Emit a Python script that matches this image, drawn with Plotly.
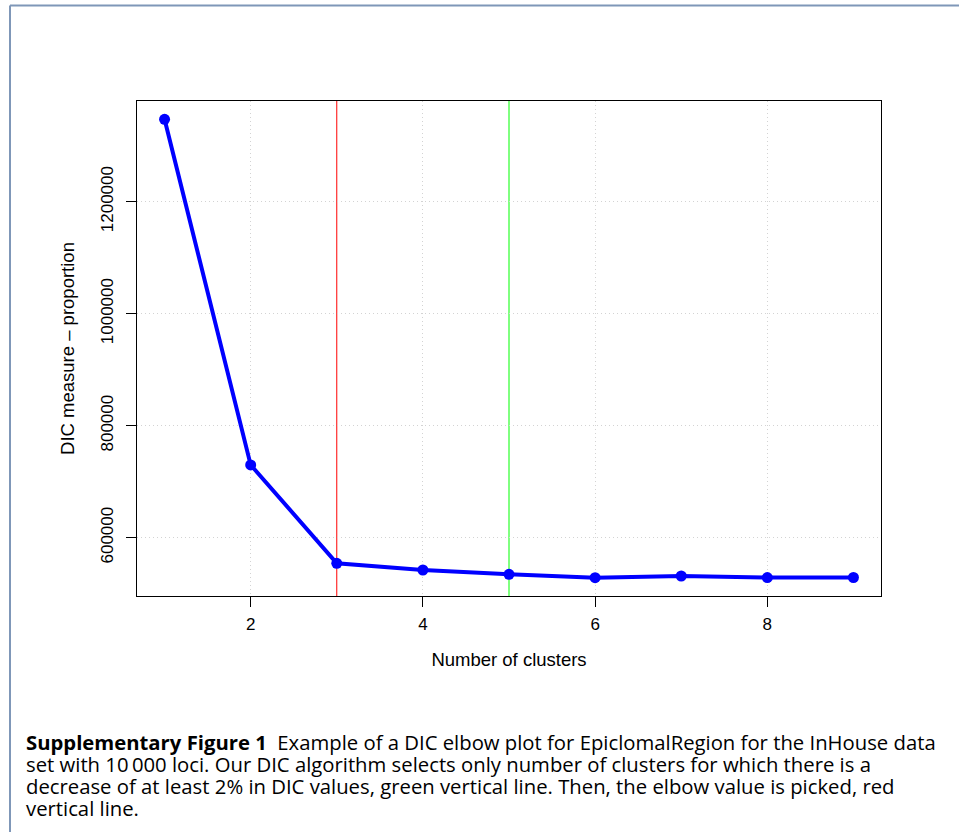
import plotly.graph_objects as go

# ---- data ----
clusters = [1, 2, 3, 4, 5, 6, 7, 8, 9]
dic_values = [1347000, 730000, 554300, 542300, 534600, 528600, 531600, 528800, 528900]
elbow_k = 3
selected_k = 5
x_ticks = [2, 4, 6, 8]
y_ticks = [600000, 800000, 1000000, 1200000]
caption_lines = [
    "<b>Supplementary Figure 1</b>  Example of a DIC elbow plot for EpiclomalRegion for the InHouse data",
    "set with 10\u2009000 loci. Our DIC algorithm selects only number of clusters for which there is a",
    "decrease of at least 2% in DIC values, green vertical line. Then, the elbow value is picked, red",
    "vertical line.",
]

W, H = 959, 832
L, R, T, B = 137, 881, 101, 596
pw, ph = R - L, B - T

def px(xp):
    return (xp - L) / pw

def py(yp):
    return (B - yp) / ph

# R-style 4% axis extension
xmin, xmax = min(clusters), max(clusters)
xr = [xmin - 0.04 * (xmax - xmin), xmax + 0.04 * (xmax - xmin)]
ymin, ymax = min(dic_values), max(dic_values)
yr = [ymin - 0.04 * (ymax - ymin), ymax + 0.04 * (ymax - ymin)]

fig = go.Figure()
fig.add_trace(go.Scatter(
    x=clusters, y=dic_values, mode="lines+markers",
    line=dict(color="#0000FF", width=4),
    marker=dict(color="#0000FF", size=11),
    showlegend=False, hoverinfo="skip",
))

shapes = [
    dict(type="line", xref="x", yref="paper", x0=elbow_k, x1=elbow_k, y0=0, y1=1,
         line=dict(color="#FF0000", width=1), layer="below"),
    dict(type="line", xref="x", yref="paper", x0=selected_k, x1=selected_k, y0=0, y1=1,
         line=dict(color="#00FF00", width=1), layer="below"),
    # outer frame
    dict(type="line", xref="paper", yref="paper", x0=px(10), x1=px(962), y0=py(5.5), y1=py(5.5),
         line=dict(color="#7F97B8", width=2)),
    dict(type="line", xref="paper", yref="paper", x0=px(10), x1=px(10), y0=py(5.5), y1=py(840),
         line=dict(color="#7F97B8", width=2)),
]

annotations = []
cap_y = [742, 764, 786, 808]
for txt, yy in zip(caption_lines, cap_y):
    annotations.append(dict(
        text=txt, xref="paper", yref="paper", x=px(25), y=py(yy),
        xanchor="left", yanchor="middle", showarrow=False, borderpad=0,
        font=dict(family="Open Sans", size=20.3, color="black"),
    ))

fig.update_layout(
    width=W, height=H,
    margin=dict(l=L, r=W - R, t=T, b=H - B, pad=0),
    paper_bgcolor="white", plot_bgcolor="white",
    font=dict(family="Liberation Sans", size=17, color="black"),
    shapes=shapes, annotations=annotations,
    xaxis=dict(
        range=xr, tickvals=x_ticks, ticktext=[str(v) for v in x_ticks],
        showline=True, linecolor="black", linewidth=1, mirror=True,
        ticks="outside", ticklen=10, tickcolor="black",
        showgrid=True, gridcolor="#D3D3D3", griddash="1px,3px", gridwidth=1,
        zeroline=False, ticklabelstandoff=3,
        title=dict(text="Number of clusters", standoff=19, font=dict(size=18.5)),
        tickfont=dict(size=17),
    ),
    yaxis=dict(
        range=yr, tickvals=y_ticks, ticktext=[str(v) for v in y_ticks],
        tickangle=-90,
        showline=True, linecolor="black", linewidth=1, mirror=True,
        ticks="outside", ticklen=10, tickcolor="black",
        showgrid=True, gridcolor="#D3D3D3", griddash="1px,3px", gridwidth=1,
        zeroline=False, ticklabelstandoff=6,
        title=dict(text="DIC measure \u2013 proportion", standoff=18, font=dict(size=18.5)),
        tickfont=dict(size=17),
    ),
)

fig.write_html("out.html")
